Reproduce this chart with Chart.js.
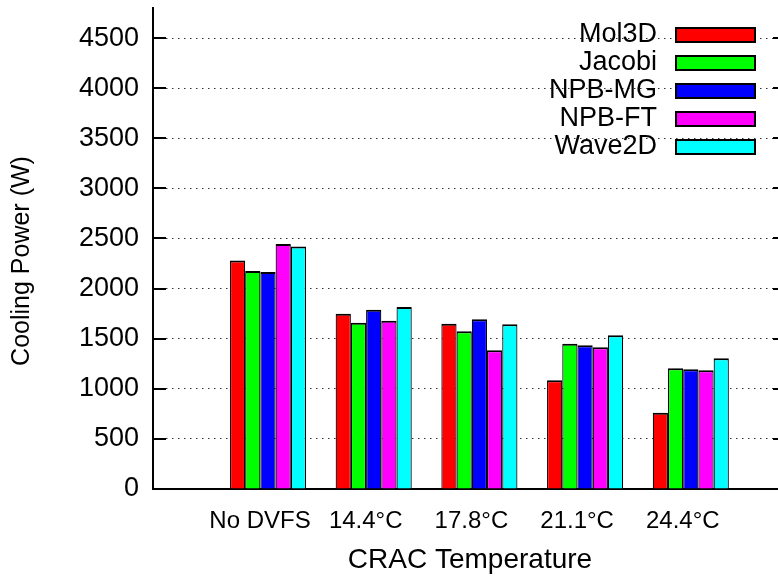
<!DOCTYPE html>
<html>
<head>
<meta charset="utf-8">
<script src="https://cdn.jsdelivr.net/npm/chart.js@4.4.1/dist/chart.umd.min.js"></script>
<style>
  html, body { margin: 0; padding: 0; background: #fff; overflow: hidden; }
  canvas { display: block; }
</style>
</head>
<body>
<canvas id="coolingChart" width="778" height="578"></canvas>
<script>
// --- data ---
const categories = ['No DVFS', '14.4°C', '17.8°C', '21.1°C', '24.4°C'];
const seriesNames = ['Mol3D', 'Jacobi', 'NPB-MG', 'NPB-FT', 'Wave2D'];
const mol3d  = [2280, 1750, 1650, 1085, 760];
const jacobi = [2175, 1660, 1575, 1450, 1205];
const npbMg  = [2165, 1790, 1695, 1435, 1195];
const npbFt  = [2445, 1680, 1385, 1415, 1185];
const wave2d = [2420, 1815, 1645, 1535, 1305];
const yTicks = [0, 500, 1000, 1500, 2000, 2500, 3000, 3500, 4000, 4500];
const yMax = 4800;

const seriesValues = [mol3d, jacobi, npbMg, npbFt, wave2d];
const colors = ['#ff0000', '#00ff00', '#0000ff', '#ff00ff', '#00ffff'];
const FONT = '"Liberation Sans", Arial, Helvetica, sans-serif';

// x range in category units, leaves the empty space left of the first cluster
const xMin = -1.088;
const xMax = 4.825;

// gnuplot-like decorations: inward ticks, key on the right, axis titles
const gnuplotDecor = {
    id: 'gnuplotDecor',
    afterDraw(chart) {
        const { ctx, chartArea: area, scales: { y } } = chart;
        ctx.save();

        ctx.strokeStyle = '#000';
        ctx.lineWidth = 2;
        yTicks.forEach(v => {
            const py = Math.round(y.getPixelForValue(v));
            ctx.beginPath();
            ctx.moveTo(area.left, py);
            ctx.lineTo(area.left + 13, py);
            ctx.moveTo(area.right - 5, py);
            ctx.lineTo(area.right, py);
            ctx.stroke();
        });

        // key
        ctx.font = '27px ' + FONT;
        ctx.textAlign = 'right';
        ctx.textBaseline = 'middle';
        chart.data.datasets.forEach((ds, i) => {
            const cy = 35 + i * 28;
            ctx.fillStyle = '#000';
            ctx.fillText(ds.label, 657, cy);
            ctx.fillStyle = ds.backgroundColor;
            ctx.fillRect(676, cy - 7, 79, 14);
            ctx.lineWidth = 2;
            ctx.strokeRect(676, cy - 7, 79, 14);
        });

        // axis titles
        ctx.fillStyle = '#000';
        ctx.textAlign = 'center';
        ctx.save();
        ctx.translate(22, 261);
        ctx.rotate(-Math.PI / 2);
        ctx.font = '25px ' + FONT;
        ctx.fillText('Cooling Power (W)', 0, 0);
        ctx.restore();
        ctx.font = '28px ' + FONT;
        ctx.textBaseline = 'alphabetic';
        ctx.fillText('CRAC Temperature', 470, 568);

        ctx.restore();
    }
};

const ctx = document.getElementById('coolingChart').getContext('2d');
const coolingChart = new Chart(ctx, {
    type: 'bar',
    data: {
        datasets: seriesNames.map((name, i) => ({
            label: name,
            data: seriesValues[i].map((v, k) => ({ x: k, y: v })),
            backgroundColor: colors[i],
            borderColor: '#000',
            borderWidth: { top: 2, left: 1.2, right: 1.2, bottom: 0 },
            categoryPercentage: 0.72,
            barPercentage: 1.0
        }))
    },
    options: {
        responsive: false,
        animation: false,
        devicePixelRatio: 1,
        layout: { padding: { top: 8, right: 0, bottom: 0, left: 0 } },
        plugins: {
            legend: { display: false },
            tooltip: { enabled: false }
        },
        scales: {
            x: {
                type: 'linear',
                min: xMin,
                max: xMax,
                offset: false,
                z: 1,
                afterBuildTicks: s => { s.ticks = categories.map((c, i) => ({ value: i })); },
                afterFit: s => { s.height = 89; s.paddingLeft = 0; s.paddingRight = 0; },
                grid: { display: false, offset: false },
                border: { color: '#000', width: 2 },
                ticks: {
                    callback: v => categories[v],
                    color: '#000',
                    font: { family: FONT, size: 24 },
                    padding: 10,
                    labelOffset: -8,
                    maxRotation: 0,
                    autoSkip: false
                }
            },
            y: {
                min: 0,
                max: yMax,
                afterBuildTicks: s => { s.ticks = yTicks.map(v => ({ value: v })); },
                afterFit: s => { s.width = 153; s.paddingTop = 0; s.paddingBottom = 0; },
                grid: { color: '#333', lineWidth: 1, drawTicks: false },
                border: { color: '#000', width: 2, dash: [1.5, 4.5] },
                ticks: {
                    callback: v => String(v),
                    color: '#000',
                    font: { family: FONT, size: 27 },
                    padding: 14
                }
            }
        }
    },
    plugins: [gnuplotDecor]
});
</script>
</body>
</html>
